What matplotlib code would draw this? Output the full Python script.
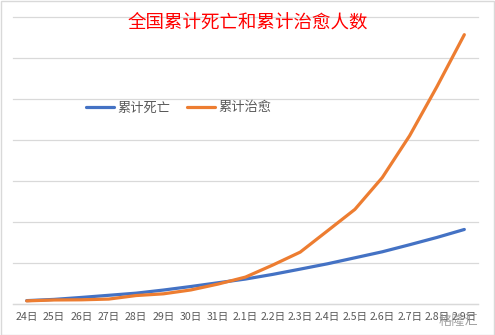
import matplotlib
matplotlib.use("Agg")
import matplotlib.pyplot as plt
from matplotlib.patches import Rectangle

plt.rcParams['font.family'] = ['Noto Sans CJK SC', 'DejaVu Sans']

dates = ["24日", "25日", "26日", "27日", "28日", "29日", "30日", "31日",
         "2.1日", "2.2日", "2.3日", "2.4日", "2.5日", "2.6日", "2.7日", "2.8日", "2.9日"]
deaths = [41, 56, 80, 106, 132, 170, 213, 259, 304, 361, 425, 490, 563, 636, 722, 811, 908]
cured = [38, 49, 51, 60, 103, 124, 171, 243, 328, 475, 632, 892, 1153, 1540, 2050, 2649, 3281]

W, H = 495, 335
fig = plt.figure(figsize=(W / 100, H / 100), dpi=100)
fig.patch.set_facecolor("white")

left, right, bottom, top = 13, 478, 304, 16.7
ax = fig.add_axes([left / W, 1 - bottom / H, (right - left) / W, (bottom - top) / H])

x = list(range(len(dates)))
ax.plot(x, deaths, color="#4472C4", lw=2.3, solid_capstyle="round", label="累计死亡", zorder=3)
ax.plot(x, cured, color="#ED7D31", lw=2.3, solid_capstyle="round", label="累计治愈", zorder=3)

ax.set_xlim(-0.5, len(dates) - 0.5)
ax.set_ylim(0, 3500)
ax.set_yticks(range(0, 3501, 500))
ax.set_yticklabels([])
ax.tick_params(axis="y", length=0)
ax.grid(axis="y", color="#D9D9D9", lw=0.9)
ax.set_axisbelow(True)
for gl in ax.get_ygridlines():
    gl.set_clip_on(False)

ax.set_xticks(x)
ax.set_xticklabels(dates, fontsize=7.6, color="#595959")
ax.tick_params(axis="x", length=0, pad=6)
for s in ["left", "right", "top"]:
    ax.spines[s].set_visible(False)
ax.spines["bottom"].set_color("#D9D9D9")
ax.spines["bottom"].set_linewidth(0.9)

fig.text(248 / W, 1 - 23 / H, "全国累计死亡和累计治愈人数", color="#FF0000",
         fontsize=13.3, ha="center", va="center")

fig.legend(loc="center", bbox_to_anchor=(178.5 / W, 1 - 108 / H), ncol=2,
           frameon=False, fontsize=9.5, labelcolor="#595959",
           handlelength=2.1, handletextpad=0.25, columnspacing=1.3)

fig.text(458 / W, 1 - 321 / H, "格隆汇", color="#8c8c8c", fontsize=9.5,
         ha="center", va="center", alpha=0.8)

fig.add_artist(Rectangle((0.5 / W, 0.5 / H), (W - 1.5) / W, (H - 1.5) / H,
                         transform=fig.transFigure, fill=False,
                         edgecolor="#D9D9D9", lw=1))

fig.savefig("out.png", dpi=100)
